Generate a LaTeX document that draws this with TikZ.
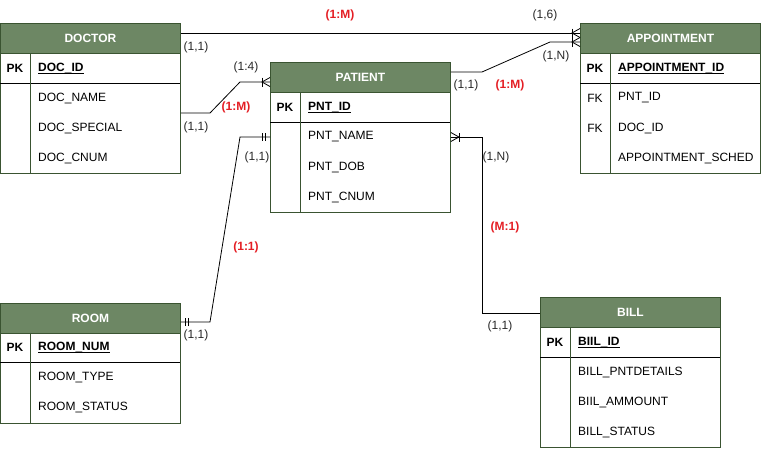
\documentclass[tikz,border=0pt]{standalone}
\usepackage{fontspec}
\setmainfont{Liberation Sans}
\usetikzlibrary{calc}
\definecolor{hdrgreen}{HTML}{6D8764}
\definecolor{frmgreen}{HTML}{3A5431}
\definecolor{relred}{RGB}{228,30,36}
\definecolor{lblgray}{RGB}{40,40,40}
\tikzset{
  every node/.style={font=\fontsize{12}{14}\selectfont, inner sep=0pt},
  tbl/.style={draw=frmgreen, line width=0.9pt, fill=white, minimum width=180pt, anchor=north west, rectangle},
  hdr/.style={draw=frmgreen, line width=0.9pt, fill=hdrgreen, text=white, font=\fontsize{12}{14}\selectfont\bfseries, minimum width=180pt, minimum height=30pt, anchor=north west, rectangle},
  keycell/.style={font=\fontsize{12}{14}\selectfont\bfseries, anchor=center},
  fkcell/.style={anchor=center},
  pkfield/.style={font=\fontsize{12}{14}\selectfont\bfseries, anchor=west},
  field/.style={anchor=west},
  sepline/.style={draw=black, line width=0.9pt},
  divline/.style={draw=frmgreen, line width=0.9pt},
  uline/.style={draw=black, line width=0.8pt},
  conn/.style={draw=black, line width=0.8pt},
  card/.style={text=lblgray},
  rel/.style={text=relred, font=\fontsize{12}{14}\selectfont\bfseries},
  pics/onemany/.style={code={
    \draw[line width=0.8pt] (-8,-4.5) -- (-8,4.5);
    \draw[line width=0.8pt] (0,-4.5) -- (-8,0) -- (0,4.5);}},
  pics/oneone/.style={code={
    \draw[line width=0.8pt] (-4.5,-4) -- (-4.5,4);
    \draw[line width=0.8pt] (-7.5,-4) -- (-7.5,4);}}
}
\begin{document}
\begin{tikzpicture}[x=1pt,y=-1pt]
\useasboundingbox (0,0) rectangle (761,448);

% ---------- DOCTOR ----------
\begin{scope}[shift={(0,23)}]
\node[tbl, minimum height=150pt] (doctor) at (0,0) {};
\node[hdr] (doctorh) at (0,0) {DOCTOR};
\draw[sepline] (0,60) -- (180,60);
\draw[divline] (30,30) -- (30,150);
\node[keycell] (doctork) at (15,45) {PK};
\node[pkfield] (doctorpk) at (38,45) {DOC\_ID};
\node[field] (doctorf1) at (38,75) {DOC\_NAME};
\node[field] (doctorf2) at (38,105) {DOC\_SPECIAL};
\node[field] (doctorf3) at (38,135) {DOC\_CNUM};
\end{scope}
\draw[uline] ([yshift=-1.6pt]doctorpk.base west) -- ([yshift=-1.6pt]doctorpk.base east);

% ---------- PATIENT ----------
\begin{scope}[shift={(270,62)}]
\node[tbl, minimum height=150pt] (patient) at (0,0) {};
\node[hdr] (patienth) at (0,0) {PATIENT};
\draw[sepline] (0,60) -- (180,60);
\draw[divline] (30,30) -- (30,150);
\node[keycell] (patientk) at (15,45) {PK};
\node[pkfield] (patientpk) at (38,45) {PNT\_ID};
\node[field] (patientf1) at (38,75) {PNT\_NAME};
\node[field] (patientf2) at (38,105) {PNT\_DOB};
\node[field] (patientf3) at (38,135) {PNT\_CNUM};
\end{scope}
\draw[uline] ([yshift=-1.6pt]patientpk.base west) -- ([yshift=-1.6pt]patientpk.base east);

% ---------- APPOINTMENT ----------
\begin{scope}[shift={(580,23)}]
\node[tbl, minimum height=150pt] (appt) at (0,0) {};
\node[hdr] (appth) at (0,0) {APPOINTMENT};
\draw[sepline] (0,60) -- (180,60);
\draw[divline] (30,30) -- (30,150);
\node[keycell] (apptk) at (15,45) {PK};
\node[pkfield] (apptpk) at (38,45) {APPOINTMENT\_ID};
\node[fkcell] (apptk1) at (15,75) {FK};
\node[field] (apptf1) at (38,75) {PNT\_ID};
\node[fkcell] (apptk2) at (15,105) {FK};
\node[field] (apptf2) at (38,105) {DOC\_ID};
\node[field] (apptf3) at (38,135) {APPOINTMENT\_SCHED};
\end{scope}
\draw[uline] ([yshift=-1.6pt]apptpk.base west) -- ([yshift=-1.6pt]apptpk.base east);

% ---------- ROOM ----------
\begin{scope}[shift={(0,302.5)}]
\node[tbl, minimum height=120pt] (room) at (0,0) {};
\node[hdr] (roomh) at (0,0) {ROOM};
\draw[sepline] (0,60) -- (180,60);
\draw[divline] (30,30) -- (30,120);
\node[keycell] (roomk) at (15,45) {PK};
\node[pkfield] (roompk) at (38,45) {ROOM\_NUM};
\node[field] (roomf1) at (38,75) {ROOM\_TYPE};
\node[field] (roomf2) at (38,105) {ROOM\_STATUS};
\end{scope}
\draw[uline] ([yshift=-1.6pt]roompk.base west) -- ([yshift=-1.6pt]roompk.base east);

% ---------- BILL ----------
\begin{scope}[shift={(540,297)}]
\node[tbl, minimum height=150pt] (bill) at (0,0) {};
\node[hdr] (billh) at (0,0) {BILL};
\draw[sepline] (0,60) -- (180,60);
\draw[divline] (30,30) -- (30,150);
\node[keycell] (billk) at (15,45) {PK};
\node[pkfield] (billpk) at (38,45) {BIIL\_ID};
\node[field] (billf1) at (38,75) {BILL\_PNTDETAILS};
\node[field] (billf2) at (38,105) {BIIL\_AMMOUNT};
\node[field] (billf3) at (38,135) {BILL\_STATUS};
\end{scope}
\draw[uline] ([yshift=-1.6pt]billpk.base west) -- ([yshift=-1.6pt]billpk.base east);

% ---------- Connectors ----------
% DOCTOR -- APPOINTMENT
\draw[conn] (doctor.east |- 0,33) -- (appt.west |- 0,33);
\pic at (appt.west |- 0,33) {onemany};
% PATIENT -- APPOINTMENT
\draw[conn] (patient.east |- 0,72) -- (482,72) -- (550,42) -- (appt.west |- 0,42);
\pic at (appt.west |- 0,42) {onemany};
% DOCTOR -- PATIENT
\draw[conn] (doctor.east |- 0,113) -- (210,113) -- (240,82) -- (patient.west |- 0,82);
\pic at (patient.west |- 0,82) {onemany};
% ROOM -- PATIENT
\draw[conn] (room.east |- 0,322) -- (210,322) -- (240,137) -- (patient.west |- 0,137);
\pic at (patient.west |- 0,137) {oneone};
\pic[rotate=180] at (room.east |- 0,322) {oneone};
% PATIENT -- BILL
\draw[conn] (patient.east |- 0,137) -- (482,137) -- (482,313) -- (bill.west |- 0,313);
\pic[rotate=180] at (patient.east |- 0,137) {onemany};

% ---------- Labels ----------
\node[rel] (l1) at (340,15) {(1:M)};
\node[card] (l2) at (545,15) {(1,6)};
\node[card] (l3) at (196,47) {(1,1)};
\node[card] (l4) at (556,56) {(1,N)};
\node[card] (l5) at (466,85) {(1,1)};
\node[rel] (l6) at (510,85) {(1:M)};
\node[card] (l7) at (246,67) {(1:4)};
\node[rel] (l8) at (236,107) {(1:M)};
\node[card] (l9) at (196,127) {(1,1)};
\node[card] (l10) at (257,157) {(1,1)};
\node[rel] (l11) at (246,247) {(1:1)};
\node[card] (l12) at (196,335) {(1,1)};
\node[card] (l13) at (496,157) {(1,N)};
\node[rel] (l14) at (505,227) {(M:1)};
\node[card] (l15) at (500,326) {(1,1)};
\end{tikzpicture}
\end{document}
